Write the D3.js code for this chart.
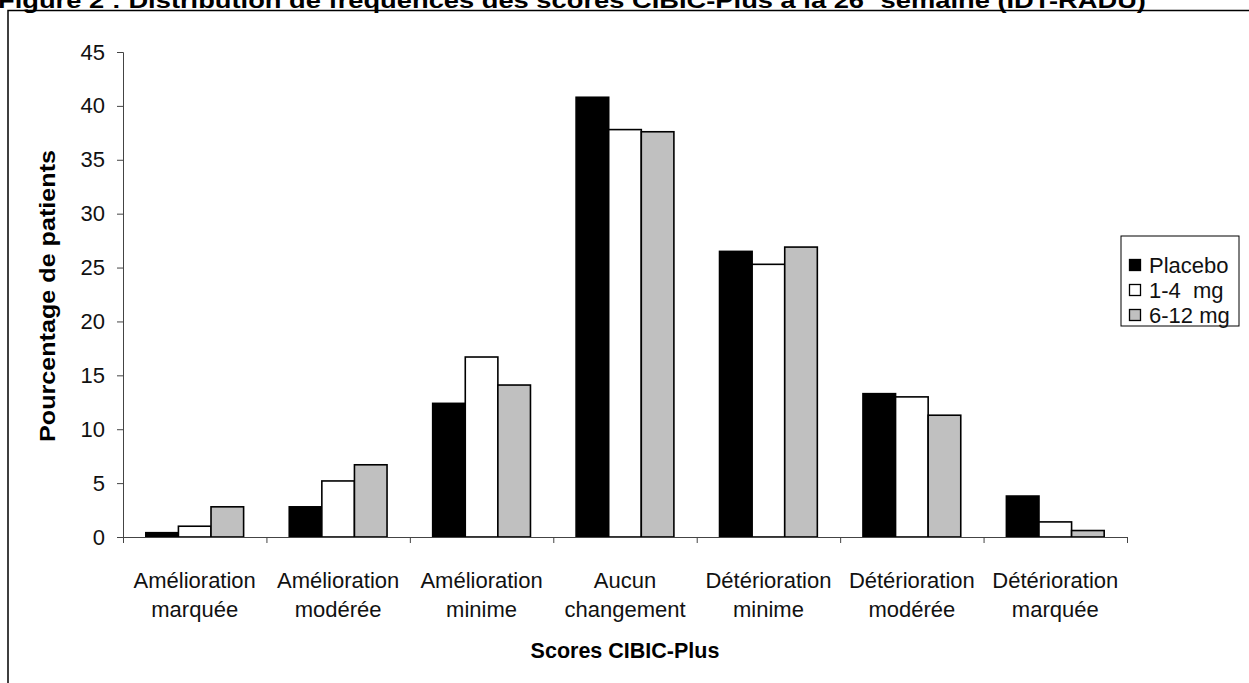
<!DOCTYPE html>
<html>
<head>
<meta charset="utf-8">
<script src="https://cdn.jsdelivr.net/npm/d3@7"></script>
<style>
  body { margin: 0; background: #fff; }
  svg text { font-family: "Liberation Sans", Arial, sans-serif; }
</style>
</head>
<body>
<div id="svg_chart"></div>
<script>
///////////// Data //////////////
var categories = [
  ['Amélioration', 'marquée'],
  ['Amélioration', 'modérée'],
  ['Amélioration', 'minime'],
  ['Aucun', 'changement'],
  ['Détérioration', 'minime'],
  ['Détérioration', 'modérée'],
  ['Détérioration', 'marquée']
];
var series_names = ['Placebo', '1-4  mg', '6-12 mg'];
var placebo = [0.4, 2.8, 12.4, 40.8, 26.5, 13.3, 3.8];
var dose_low = [1.0, 5.2, 16.7, 37.8, 25.3, 13.0, 1.4];
var dose_high = [2.8, 6.7, 14.1, 37.6, 26.9, 11.3, 0.6];
var y_ticks = [0, 5, 10, 15, 20, 25, 30, 35, 40, 45];
var series_values = [placebo, dose_low, dose_high];
var series_colors = ['#000000', '#ffffff', '#c0c0c0'];

///////////// Layout //////////////
const svg_width = 1249;
const svg_height = 683;
const plot_left = 123, plot_right = 1127;
const plot_top = 52, plot_bottom = 537;
const label_size = 22;

var svg = d3.select('#svg_chart').append('svg')
  .attr('width', svg_width)
  .attr('height', svg_height);

// figure title (cut off at the top, like the scan)
var title = svg.append('text')
  .attr('x', -2)
  .attr('y', 8)
  .attr('font-size', 22)
  .attr('font-weight', 'bold')
  .attr('textLength', 1148)
  .attr('lengthAdjust', 'spacingAndGlyphs');
title.append('tspan').text('Figure 2 : Distribution de fréquences des scores CIBIC-Plus à la 26');
title.append('tspan').attr('font-size', 13).attr('dy', -8).text('e');
title.append('tspan').attr('dy', 8).text(' semaine (IDT-RADU)');

// frame around the figure
svg.append('path')
  .attr('d', `M8,${svg_height + 5} L8,10.5 L${svg_width + 5},10.5`)
  .attr('fill', 'none')
  .attr('stroke', '#000')
  .attr('stroke-width', 1.5);

///////////// Scales //////////////
var x0 = d3.scaleBand()
  .domain(d3.range(categories.length))
  .range([plot_left, plot_right])
  .paddingInner(0)
  .paddingOuter(0);

var x1 = d3.scaleBand()
  .domain(d3.range(series_names.length))
  .range([0, x0.bandwidth()])
  .paddingInner(0)
  .paddingOuter(0.7);

var y = d3.scaleLinear()
  .domain([0, 45])
  .range([plot_bottom, plot_top]);

///////////// Bars //////////////
var groups = svg.append('g').selectAll('g')
  .data(categories)
  .join('g')
  .attr('transform', (d, i) => `translate(${x0(i)},0)`);

groups.selectAll('rect')
  .data((d, i) => series_values.map((vals, s) => ({ s: s, v: vals[i] })))
  .join('rect')
  .attr('x', d => x1(d.s))
  .attr('y', d => y(d.v))
  .attr('width', x1.bandwidth())
  .attr('height', d => y(0) - y(d.v))
  .attr('fill', d => series_colors[d.s])
  .attr('stroke', '#000')
  .attr('stroke-width', 1.6);

///////////// Axes //////////////
var y_axis = svg.append('g')
  .attr('transform', `translate(${plot_left},0)`)
  .call(d3.axisLeft(y).tickValues(y_ticks).tickSizeOuter(0).tickSize(6).tickPadding(12));
y_axis.select('.domain').attr('stroke', '#444');
y_axis.selectAll('.tick line').attr('stroke', '#444');
y_axis.selectAll('.tick text')
  .attr('font-size', label_size)
  .attr('fill', '#111')
  .style('font-family', '"Liberation Sans", Arial, sans-serif');

// x axis: baseline with ticks at category boundaries
var x_axis_scale = d3.scaleLinear()
  .domain([0, categories.length])
  .range([plot_left, plot_right]);
var x_axis = svg.append('g')
  .attr('transform', `translate(0,${plot_bottom})`)
  .call(d3.axisBottom(x_axis_scale).tickValues(d3.range(categories.length + 1)).tickSizeOuter(0).tickSize(6).tickFormat(''));
x_axis.select('.domain').attr('stroke', '#444');
x_axis.selectAll('.tick line').attr('stroke', '#444');

// category labels (two lines)
var cat_labels = svg.append('g').selectAll('text')
  .data(categories)
  .join('text')
  .attr('x', (d, i) => x0(i) + x0.bandwidth() / 2)
  .attr('y', 588)
  .attr('text-anchor', 'middle')
  .attr('font-size', label_size)
  .attr('fill', '#111');
cat_labels.append('tspan')
  .attr('x', (d, i) => x0(i) + x0.bandwidth() / 2)
  .text(d => d[0]);
cat_labels.append('tspan')
  .attr('x', (d, i) => x0(i) + x0.bandwidth() / 2)
  .attr('dy', 29)
  .text(d => d[1]);

// axis titles
svg.append('text')
  .attr('x', (plot_left + plot_right) / 2)
  .attr('y', 658)
  .attr('text-anchor', 'middle')
  .attr('font-size', 21.5)
  .attr('font-weight', 'bold')
  .text('Scores CIBIC-Plus');

svg.append('text')
  .attr('transform', 'translate(55,296) rotate(-90)')
  .attr('text-anchor', 'middle')
  .attr('font-size', 22)
  .attr('font-weight', 'bold')
  .attr('textLength', 292)
  .attr('lengthAdjust', 'spacingAndGlyphs')
  .text('Pourcentage de patients');

///////////// Legend //////////////
var legend = svg.append('g')
  .attr('transform', 'translate(1121,236)');
legend.append('rect')
  .attr('width', 118)
  .attr('height', 90)
  .attr('fill', '#fff')
  .attr('stroke', '#000')
  .attr('stroke-width', 1);

var legend_items = legend.selectAll('g.item')
  .data(series_names)
  .join('g')
  .attr('class', 'item')
  .attr('transform', (d, i) => `translate(8,${29 + i * 25})`);
legend_items.append('rect')
  .attr('x', 0.5)
  .attr('y', -5.5)
  .attr('width', 11)
  .attr('height', 11)
  .attr('fill', (d, i) => series_colors[i])
  .attr('stroke', '#000')
  .attr('stroke-width', 1.3);
legend_items.append('text')
  .attr('x', 20)
  .attr('y', 8)
  .attr('font-size', label_size)
  .attr('fill', '#111')
  .style('white-space', 'pre')
  .text(d => d);
</script>
</body>
</html>
